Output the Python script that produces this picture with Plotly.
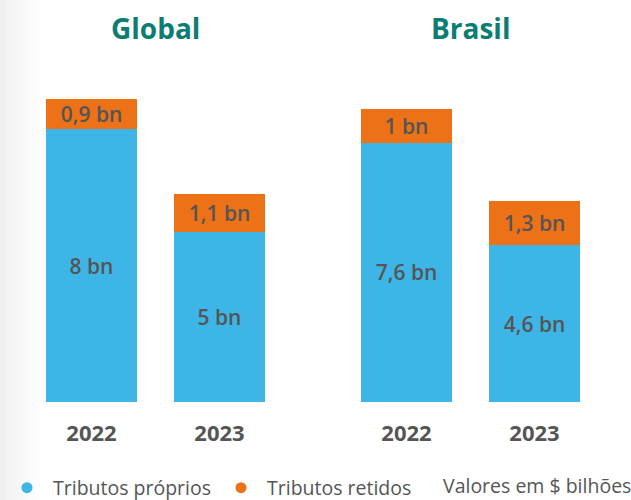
import plotly.graph_objects as go

years = ["2022", "2023"]
global_proprios = [8, 5]
global_retidos = [0.9, 1.1]
brasil_proprios = [7.6, 4.6]
brasil_retidos = [1, 1.3]
panel_titles = ["Global", "Brasil"]
legend_names = ["Tributos próprios", "Tributos retidos"]
note_text = "Valores em $ bilhões"

BLUE = "#3db5e6"
ORANGE = "#ec7117"
TEAL = "#0b7d73"
GREY = "#555555"
FONT = "Open Sans"


def fmt(v):
    return f"{v:g}".replace(".", ",") + " bn"


fig = go.Figure()
panels = [(global_proprios, global_retidos, "x", "y"),
          (brasil_proprios, brasil_retidos, "x2", "y2")]
for prop, ret, xa, ya in panels:
    fig.add_trace(go.Bar(x=years, y=prop, text=[fmt(v) for v in prop],
                         marker=dict(color=BLUE, line=dict(width=0)),
                         width=0.71, xaxis=xa, yaxis=ya, showlegend=False,
                         textposition="inside", insidetextanchor="middle",
                         textfont=dict(color=GREY, size=21, family=FONT, weight=600),
                         hoverinfo="skip"))
    fig.add_trace(go.Bar(x=years, y=ret, text=[fmt(v) for v in ret],
                         marker=dict(color=ORANGE, line=dict(width=0)),
                         width=0.71, xaxis=xa, yaxis=ya, showlegend=False,
                         textposition="inside", insidetextanchor="middle",
                         textfont=dict(color=GREY, size=21, family=FONT, weight=600),
                         hoverinfo="skip"))

# legend-only traces with circle markers
for name, col in zip(legend_names, [BLUE, ORANGE]):
    fig.add_trace(go.Scatter(x=[None], y=[None], mode="markers", name=name,
                             marker=dict(color=col, size=11, symbol="circle"),
                             xaxis="x", yaxis="y"))

xcommon = dict(type="category", range=[-0.5, 1.5], showgrid=False,
               zeroline=False, showline=False, ticks="outside", ticklen=12,
               tickcolor="rgba(0,0,0,0)",
               tickfont=dict(size=22, color=GREY, family=FONT, weight="bold"))
ycommon = dict(range=[0, 10.03], visible=False, fixedrange=True)

# subtle grey fade at the left edge of the page
shades = ["#efefef", "#f2f2f2", "#f4f4f4", "#f6f6f6", "#f8f8f8",
          "#fafafa", "#fbfbfb", "#fdfdfd"]
shapes = []
for i, c in enumerate(shades):
    shapes.append(dict(type="rect", xref="paper", yref="paper",
                       x0=i * 5 / 631, x1=(i + 1) * 5 / 631,
                       y0=-98 / 342, y1=(342 + 60) / 342,
                       fillcolor=c, line=dict(width=0), layer="below"))

fig.update_layout(
    width=631, height=500,
    margin=dict(l=0, r=0, t=60, b=98),
    paper_bgcolor="white", plot_bgcolor="rgba(0,0,0,0)",
    barmode="stack",
    uniformtext=dict(mode="show", minsize=21),
    font=dict(family=FONT, color=GREY),
    xaxis=dict(domain=[0.0436, 0.4493], anchor="y", **xcommon),
    xaxis2=dict(domain=[0.5428, 0.9485], anchor="y2", **xcommon),
    yaxis=dict(anchor="x", **ycommon),
    yaxis2=dict(anchor="x2", **ycommon),
    showlegend=True,
    shapes=shapes,
    legend=dict(orientation="h", x=1 / 631, xanchor="left",
                yref="container", y=1 - 488 / 500, yanchor="middle",
                entrywidth=157, entrywidthmode="pixels", itemwidth=42,
                traceorder="normal", bgcolor="rgba(0,0,0,0)",
                font=dict(size=19.5, color=GREY, family=FONT),
                itemclick=False, itemdoubleclick=False),
    annotations=[
        dict(text="<b>" + panel_titles[0] + "</b>", x=0.2465,
             y=(402 - 28) / 342, xref="paper", yref="paper", xanchor="center",
             yanchor="middle", showarrow=False,
             font=dict(size=28, color=TEAL, family=FONT)),
        dict(text="<b>" + panel_titles[1] + "</b>", x=0.7457,
             y=(402 - 28) / 342, xref="paper", yref="paper", xanchor="center",
             yanchor="middle", showarrow=False,
             font=dict(size=28, color=TEAL, family=FONT)),
        dict(text=note_text, x=441 / 631, y=(402 - 486) / 342,
             xref="paper", yref="paper",
             xanchor="left", yanchor="middle", showarrow=False,
             font=dict(size=19.5, color=GREY, family=FONT)),
    ],
)

fig.write_html("out.html", config={"displayModeBar": False},
               post_script="document.body.style.margin='0';")
